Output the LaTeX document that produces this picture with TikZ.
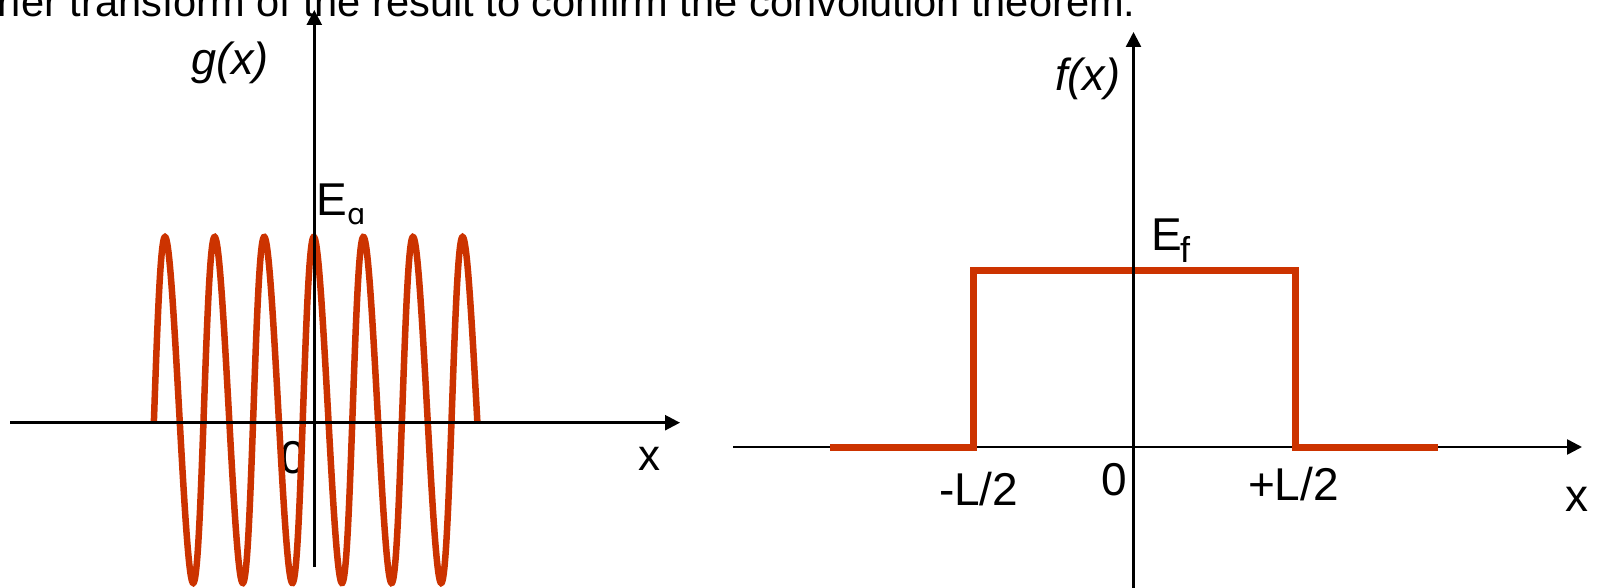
\documentclass[tikz,border=0pt]{standalone}
\usepackage{fontspec}
\setmainfont{Liberation Sans}
\newfontfamily\dejavu{DejaVu Sans}
\usetikzlibrary{arrows.meta}
\definecolor{wavered}{RGB}{204,51,0}
\begin{document}
\begin{tikzpicture}[x=1pt,y=-1pt,
  axisarrow/.style={line width=2.5pt,-{Triangle[length=15pt,width=15pt]}},
  curve/.style={draw=wavered,line width=6.5pt},
  lbl/.style={inner sep=0pt,outer sep=0pt,anchor=base west,font=\fontsize{46}{50}\selectfont},
  sublbl/.style={inner sep=0pt,outer sep=0pt,anchor=base west,font=\fontsize{36}{40}\selectfont},
  toptext/.style={inner sep=0pt,outer sep=0pt,anchor=base west,font=\fontsize{41.6}{48}\selectfont}]
\useasboundingbox (0,0) rectangle (1603,588);
\fill[white] (0,0) rectangle (1603,588);

% top text (cut off at the top edge, as in the reference)
\node[toptext] (top) at (-2,17) {rier transform of the result to confirm the convolution theorem.};

% ---------- left graph ----------
\coordinate (gxl) at (10,422.7);
\coordinate (gxr) at (680,422.7);
\coordinate (gyb) at (314.3,567);
\coordinate (gyt) at (314.3,10);
\node[lbl,font=\fontsize{45}{50}\selectfont\itshape] (glabel) at (191,75) {g(x)};
\node[lbl] (gE) at (316,215) {E};
\node[sublbl,font=\fontsize{29}{32}\selectfont\dejavu] (gEsub) at (347,225) {ɑ};
\node[lbl] (gzero) at (280,473) {0};
\node[lbl,font=\fontsize{44}{50}\selectfont] (gx) at (638,470) {x};
\draw[curve] plot[domain=-1174:1174,samples=600,variable=\t]
  ({315.5+(\t/360)*49.6-1.7*cos(\t)},{410-173*cos(\t)});
\draw[axisarrow] (gxl) -- (gxr);
\draw[axisarrow] (gyb) -- (gyt);

% ---------- right graph ----------
\coordinate (fxl) at (733,447);
\coordinate (fxr) at (1582,447);
\coordinate (fyb) at (1133.5,590);
\coordinate (fyt) at (1133.5,32);
\coordinate (r1) at (830,447);
\coordinate (r2) at (973,447);
\coordinate (r3) at (973,270);
\coordinate (r4) at (1295,270);
\coordinate (r5) at (1295,447);
\coordinate (r6) at (1438,447);
\draw[axisarrow] (fxl) -- (fxr);
\draw[curve,line width=7pt,line join=miter] (r1) -- (r2) -- (r3) -- (r4) -- (r5) -- (r6);
\draw[axisarrow] (fyb) -- (fyt);
\node[lbl,font=\fontsize{45}{50}\selectfont\itshape] (flabel) at (1055,91) {f(x)};
\node[lbl] (fE) at (1151,250) {E};
\node[sublbl] (fEsub) at (1180,262) {f};
\node[lbl] (mL) at (939,505) {-L/2};
\node[lbl] (zero) at (1101,495) {0};
\node[lbl] (pL) at (1248,500) {+L/2};
\node[lbl] (fx) at (1565,511) {x};
\end{tikzpicture}
\end{document}
